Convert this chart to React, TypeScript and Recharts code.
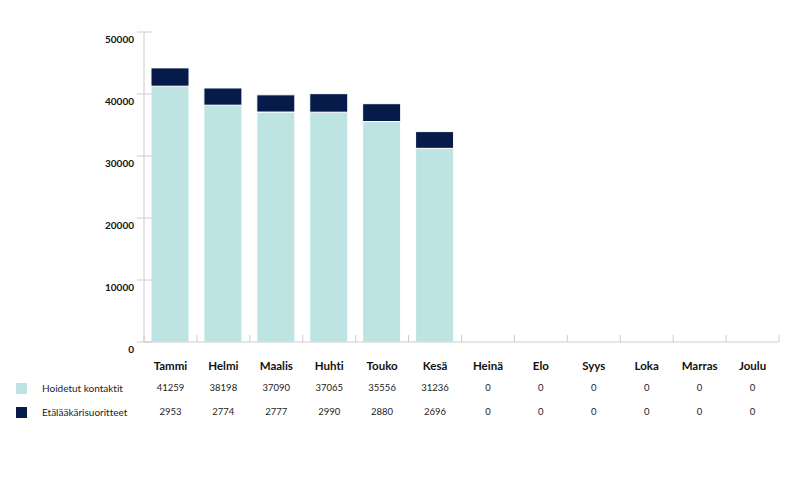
import React from 'react';
import { BarChart, Bar, XAxis, YAxis } from 'recharts';

const months = ['Tammi', 'Helmi', 'Maalis', 'Huhti', 'Touko', 'Kesä', 'Heinä', 'Elo', 'Syys', 'Loka', 'Marras', 'Joulu'];
const hoidetut = [41259, 38198, 37090, 37065, 35556, 31236, 0, 0, 0, 0, 0, 0];
const etala = [2953, 2774, 2777, 2990, 2880, 2696, 0, 0, 0, 0, 0, 0];
const yTicks = [0, 10000, 20000, 30000, 40000, 50000];
const seriesNames = ['Hoidetut kontaktit', 'Etälääkärisuoritteet'];
const seriesColors = ['#bde4e3', '#061b4a'];

const data = months.map((m, i) => ({ month: m, hoidetut: hoidetut[i], etala: etala[i] }));

const W = 795;
const H = 477;
const X_H = 30;
const M = { top: 32, right: 16, left: 0, bottom: 135 - X_H };
const Y_W = 144;
const plotW = W - M.right - Y_W;
const band = plotW / months.length;
const FONT = 'Lato, "Open Sans", sans-serif';
const AXIS = '#cccccc';
const noLig = { fontVariantLigatures: 'none' as const };

const XTick = (props: any) => {
  const { x, y, index, payload } = props;
  const left = x - band / 2;
  return (
    <g>
      <line x1={left} y1={y - 7} x2={left} y2={y} stroke={AXIS} strokeWidth={1} />
      {index === months.length - 1 && (
        <line x1={x + band / 2} y1={y - 7} x2={x + band / 2} y2={y} stroke={AXIS} strokeWidth={1} />
      )}
      <text x={x} y={y + 28} textAnchor="middle" fontFamily={FONT} fontSize={11.5} fontWeight={700} fill="#111" style={noLig}>
        {payload.value}
      </text>
      <text x={x} y={y + 49} textAnchor="middle" fontFamily={FONT} fontSize={9.5} fill="#222">
        {hoidetut[index]}
      </text>
      <text x={x} y={y + 73} textAnchor="middle" fontFamily={FONT} fontSize={9.5} fill="#222">
        {etala[index]}
      </text>
    </g>
  );
};

const YTick = (props: any) => {
  const { x, y, payload } = props;
  return (
    <g>
      <line x1={x - 7} y1={y} x2={x + 8} y2={y} stroke={AXIS} strokeWidth={1} />
      <text x={x - 10} y={y + 11} textAnchor="end" fontFamily={FONT} fontSize={10} fontWeight={700} fill="#111">
        {payload.value}
      </text>
    </g>
  );
};

export default function App() {
  return (
    <div style={{ position: 'absolute', left: 0, top: 0, width: W, height: H, background: '#fff' }}>
      <BarChart width={W} height={H} data={data} margin={M} barCategoryGap={0}>
        <XAxis
          dataKey="month"
          height={X_H}
          interval={0}
          tickLine={false}
          tickSize={0}
          tickMargin={0}
          axisLine={{ stroke: AXIS }}
          tick={<XTick />}
        />
        <YAxis
          width={Y_W}
          domain={[0, 50000]}
          ticks={yTicks}
          interval={0}
          tickLine={false}
          tickSize={0}
          tickMargin={0}
          axisLine={{ stroke: AXIS }}
          tick={<YTick />}
        />
        <Bar dataKey="hoidetut" stackId="a" fill={seriesColors[0]} stroke="#fff" strokeWidth={1} barSize={38} isAnimationActive={false} />
        <Bar dataKey="etala" stackId="a" fill={seriesColors[1]} stroke="#fff" strokeWidth={1} barSize={38} isAnimationActive={false} />
      </BarChart>
      <div style={{ position: 'absolute', left: 16, top: 376, fontFamily: FONT, fontSize: 10, color: '#222', ...noLig }}>
        {seriesNames.map((n, i) => (
          <div key={n} style={{ display: 'flex', alignItems: 'center', height: 24 }}>
            <span style={{ display: 'inline-block', width: 11, height: 11, background: seriesColors[i], marginRight: 15 }} />
            <span>{n}</span>
          </div>
        ))}
      </div>
    </div>
  );
}
